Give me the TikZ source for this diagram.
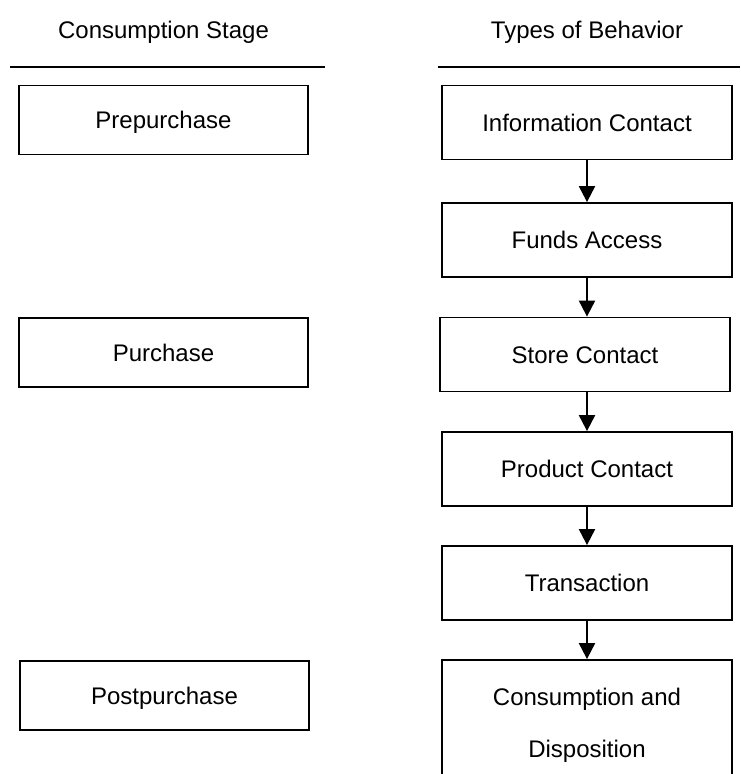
\documentclass[tikz,border=0pt]{standalone}
\usepackage{fontspec}
\setmainfont{Liberation Sans}
\usetikzlibrary{arrows.meta}
\begin{document}
\begin{tikzpicture}[x=1pt,y=-1pt,
  txt/.style={font=\fontsize{24}{28}\selectfont, inner sep=0pt},
  boxtext/.style={txt, text height=17pt, text depth=0pt},
  stagebox/.style={boxtext, draw, line width=1.8pt, minimum width=289pt, minimum height=69pt},
  behavbox/.style={boxtext, draw, line width=1.8pt, minimum width=290pt, minimum height=74pt},
  rule/.style={line width=1.6pt},
  flow/.style={line width=2pt, -{Triangle[width=16pt,length=16pt]}}
]
\clip (0,0) rectangle (740,774);
\fill[white] (0,0) rectangle (740,774);

% column headings
\node[txt, anchor=base] (hstage) at (163.5,38.5) {Consumption Stage};
\node[txt, anchor=base] (hbehav) at (587,38.5) {Types of Behavior};
\coordinate (lruleA) at (10,67);
\coordinate (lruleB) at (325,67);
\coordinate (rruleA) at (438,67);
\coordinate (rruleB) at (740,67);
\draw[rule] (lruleA) -- (lruleB);
\draw[rule] (rruleA) -- (rruleB);

% consumption stages
\node[stagebox] (pre)  at (163.5,120)   {Prepurchase};
\node[stagebox] (pur)  at (163.5,352.5) {Purchase};
\node[stagebox] (post) at (164.5,695.5) {Postpurchase};

% types of behavior
\node[behavbox] (info)  at (587,122.5) {Information Contact};
\node[behavbox] (funds) at (587,240)   {Funds Access};
\node[behavbox] (store) at (585,354.5) {Store Contact};
\node[behavbox] (prod)  at (587,469)   {Product Contact};
\node[behavbox] (trans) at (587,583)   {Transaction};
\node[draw, line width=1.8pt, minimum width=290pt, minimum height=124pt, inner sep=0pt] (cons) at (587,722) {};
\node[txt, anchor=base] (consA) at (587,705) {Consumption and};
\node[txt, anchor=base] (consB) at (587,757) {Disposition};

% flow between behaviors
\draw[flow] (info.south)  -- (funds.north);
\draw[flow] (funds.south) -- (funds.south |- store.north);
\draw[flow] (store.south -| prod.north) -- (prod.north);
\draw[flow] (prod.south)  -- (trans.north);
\draw[flow] (trans.south) -- (cons.north);
\end{tikzpicture}
\end{document}
